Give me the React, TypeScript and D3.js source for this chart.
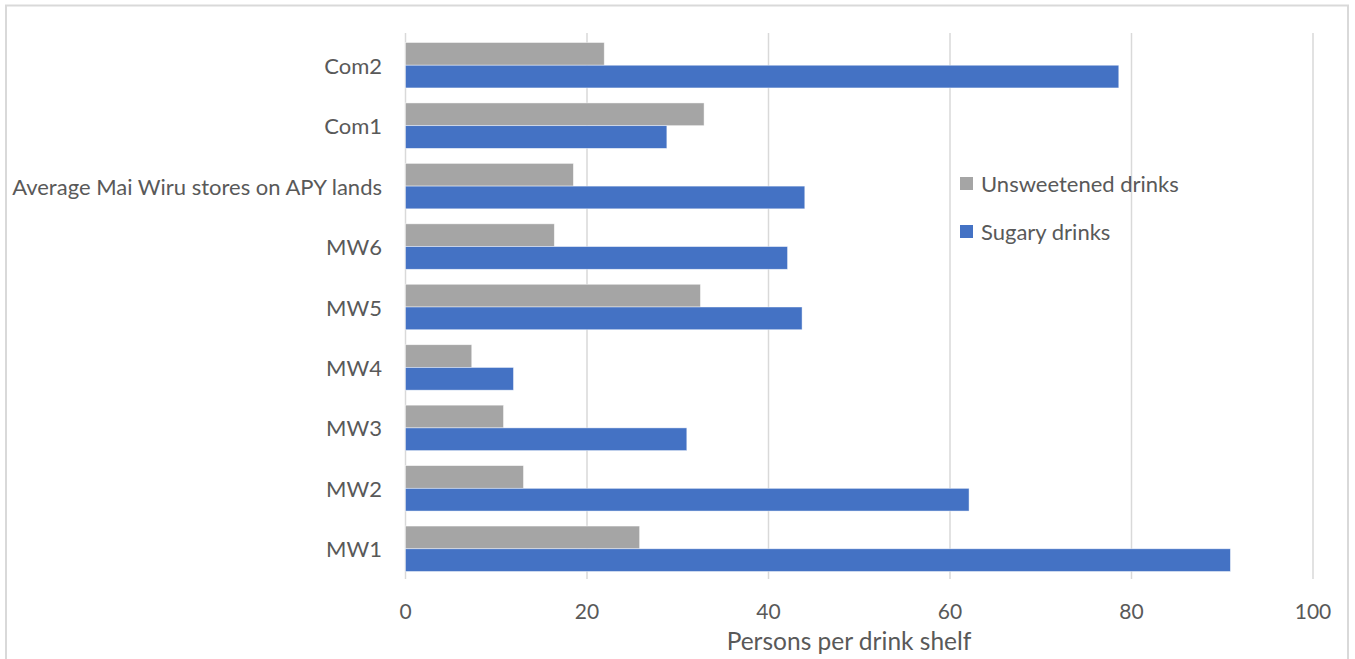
import React from "react";
import * as d3 from "d3";

// Categories listed bottom-to-top as they appear on the axis
const categories = [
  "MW1",
  "MW2",
  "MW3",
  "MW4",
  "MW5",
  "MW6",
  "Average Mai Wiru stores on APY lands",
  "Com1",
  "Com2",
];

const seriesNames = ["Unsweetened drinks", "Sugary drinks"];

const unsweetened = [25.8, 13.0, 10.8, 7.3, 32.5, 16.4, 18.5, 32.9, 21.9];
const sugary = [90.9, 62.1, 31.0, 11.9, 43.7, 42.1, 44.0, 28.8, 78.6];

const xTicks = [0, 20, 40, 60, 80, 100];
const xTitle = "Persons per drink shelf";

const colors = ["#A5A5A5", "#4472C4"];

const W = 1355;
const H = 659;
const FONT = "Lato, 'Open Sans', sans-serif";
const TEXT = "#595959";

export default function App() {
  const x = d3.scaleLinear().domain([0, 100]).range([405.5, 1313]);
  const y = d3
    .scaleBand<string>()
    .domain([...categories].reverse())
    .range([35, 579])
    .padding(0);
  const inner = d3
    .scaleBand<string>()
    .domain(seriesNames)
    .range([0, y.step()])
    .paddingInner(0)
    .paddingOuter(0.33);

  const values = [unsweetened, sugary];

  return (
    <svg
      width={W}
      height={H}
      style={{ position: "absolute", left: 0, top: 0, background: "#fff" }}
      fontFamily={FONT}
    >
      {/* chart frame */}
      <path
        d={`M6,${H} V5.5 H1348 V${H}`}
        fill="none"
        stroke="#D9D9D9"
        strokeWidth={2}
      />

      {/* vertical gridlines */}
      {xTicks.map((t) => (
        <line
          key={t}
          x1={x(t)}
          x2={x(t)}
          y1={33}
          y2={579}
          stroke="#D9D9D9"
          strokeWidth={1.5}
        />
      ))}

      {/* bars */}
      {categories.map((c, i) => (
        <g key={c} transform={`translate(0,${y(c)})`}>
          {seriesNames.map((s, k) => (
            <rect
              key={s}
              x={x(0)}
              y={inner(s)}
              width={x(values[k][i]) - x(0)}
              height={inner.bandwidth()}
              fill={colors[k]}
              stroke="#ffffff"
              strokeOpacity={0.6}
              strokeWidth={0.75}
            />
          ))}
        </g>
      ))}

      {/* category labels */}
      {categories.map((c) => (
        <text
          key={c}
          x={382}
          y={(y(c) ?? 0) + y.step() / 2}
          textAnchor="end"
          dominantBaseline="central"
          fontSize={22}
          fill={TEXT}
        >
          {c}
        </text>
      ))}

      {/* x tick labels */}
      {xTicks.map((t) => (
        <text
          key={t}
          x={x(t)}
          y={610}
          textAnchor="middle"
          dominantBaseline="central"
          fontSize={21}
          fill={TEXT}
        >
          {t}
        </text>
      ))}

      <text
        x={849}
        y={640}
        textAnchor="middle"
        dominantBaseline="central"
        fontSize={24.5}
        fill={TEXT}
      >
        {xTitle}
      </text>

      {/* legend */}
      {seriesNames.map((s, k) => (
        <g key={s} transform={`translate(960,${177 + k * 48})`}>
          <rect width={13} height={13} fill={colors[k]} />
          <text
            x={21}
            y={6.5}
            dominantBaseline="central"
            fontSize={22}
            fill={TEXT}
          >
            {s}
          </text>
        </g>
      ))}
    </svg>
  );
}
